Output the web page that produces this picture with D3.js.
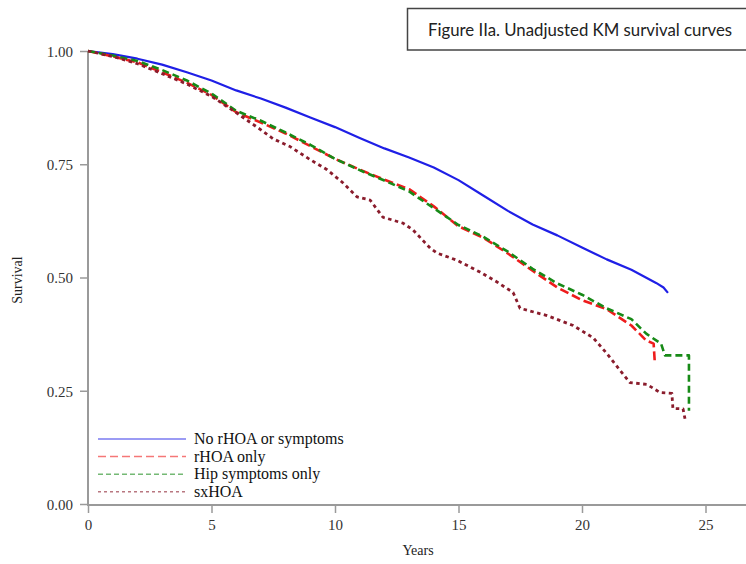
<!DOCTYPE html>
<html>
<head>
<meta charset="utf-8">
<script src="https://cdn.jsdelivr.net/npm/d3@7"></script>
<style>
  body { margin: 0; background: #fff; }
  svg { display: block; }
</style>
</head>
<body>
<svg id="chart" width="746" height="564"></svg>
<script>
const title = "Figure IIa. Unadjusted KM survival curves"
const seriesNames = ["No rHOA or symptoms", "rHOA only", "Hip symptoms only", "sxHOA"]
const xTicks = [0, 5, 10, 15, 20, 25]
const yTicks = [0, 0.25, 0.5, 0.75, 1]

// years / survival, per group
const noneT = [0, 1, 2, 3, 4, 5, 6, 7, 8, 9, 10, 11, 12, 13, 14, 15, 16, 17, 18, 19, 20, 21, 22, 23, 23.3, 23.48]
const noneS = [1, 0.993, 0.983, 0.97, 0.953, 0.935, 0.913, 0.895, 0.875, 0.853, 0.832, 0.808, 0.785, 0.765, 0.743, 0.715, 0.681, 0.647, 0.617, 0.593, 0.566, 0.54, 0.517, 0.488, 0.478, 0.466]

const rhoaT = [0, 1, 2, 3, 4, 5, 6, 7, 8, 9, 10, 11, 12, 13, 14, 15, 16, 17, 18, 19, 20, 21, 22, 22.6, 22.9, 22.95]
const rhoaS = [1, 0.988, 0.975, 0.953, 0.93, 0.903, 0.865, 0.842, 0.818, 0.79, 0.762, 0.738, 0.716, 0.695, 0.657, 0.613, 0.588, 0.553, 0.515, 0.478, 0.45, 0.43, 0.394, 0.361, 0.354, 0.31]

const hipT = [0, 1, 2, 3, 4, 5, 6, 7, 8, 9, 10, 11, 12, 13, 14, 15, 16, 17, 18, 19, 20, 21, 22, 22.6, 23.2, 23.36, 24.33, 24.33]
const hipS = [1, 0.99, 0.978, 0.958, 0.935, 0.906, 0.868, 0.846, 0.82, 0.793, 0.762, 0.737, 0.714, 0.69, 0.653, 0.616, 0.59, 0.557, 0.519, 0.487, 0.462, 0.432, 0.408, 0.376, 0.354, 0.328, 0.328, 0.206]

const sxT = [0, 1, 2, 3, 4, 5, 6, 7, 7.5, 8.18, 9, 9.68, 10.3, 10.89, 11.42, 11.94, 12.75, 13.16, 13.85, 14.13, 14.94, 15.87, 16.56, 17.21, 17.49, 18.58, 19.64, 20.45, 21.01, 21.54, 21.94, 22.63, 23.16, 23.64, 23.68, 24.09, 24.17]
const sxS = [1, 0.988, 0.972, 0.95, 0.927, 0.9, 0.864, 0.826, 0.806, 0.789, 0.76, 0.738, 0.71, 0.678, 0.671, 0.633, 0.62, 0.605, 0.565, 0.554, 0.538, 0.512, 0.49, 0.467, 0.432, 0.416, 0.394, 0.367, 0.332, 0.295, 0.268, 0.264, 0.246, 0.244, 0.211, 0.21, 0.188]

const groups = [
  {name: seriesNames[0], t: noneT, s: noneS, color: "#1f1fe6", dash: null, width: 2.2, legDash: null},
  {name: seriesNames[1], t: rhoaT, s: rhoaS, color: "#ee1c1c", dash: "9,4", width: 2.6, legDash: "8,4"},
  {name: seriesNames[2], t: hipT, s: hipS, color: "#178a17", dash: "7,4", width: 2.6, legDash: "5,3"},
  {name: seriesNames[3], t: sxT, s: sxS, color: "#8a1c2c", dash: "3.5,3.5", width: 2.8, legDash: "3,3"}
]

const svg = d3.select("#chart")
const serif = "'Liberation Serif', 'Times New Roman', serif"

const x = d3.scaleLinear().domain([0, 25]).range([88, 705.5])
const y = d3.scaleLinear().domain([0, 1]).range([504, 51])

// axes
const yAxis = d3.axisLeft(y).tickValues(yTicks).tickFormat(d3.format(".2f")).tickSize(8).tickSizeOuter(0)
const gy = svg.append("g").attr("transform", "translate(88,0)").call(yAxis)
gy.select(".domain").attr("stroke", "#9a9a9a").attr("stroke-width", 2).attr("d", "M0," + y(1) + "V" + (y(0) + 1))
gy.selectAll(".tick line").attr("stroke", "#9a9a9a").attr("stroke-width", 1.5)
gy.selectAll("text").attr("x", -15).attr("dy", "0.35em").style("font-family", serif).style("font-size", "15px").attr("fill", "#333")

const xAxis = d3.axisBottom(x).tickValues(xTicks).tickFormat(d3.format("d")).tickSize(8).tickSizeOuter(0)
const gx = svg.append("g").attr("transform", "translate(0," + (y(0) + 1) + ")").call(xAxis)
gx.select(".domain").attr("stroke", "#9a9a9a").attr("stroke-width", 2).attr("d", "M" + (x(0) - 1) + ",0H750")
gx.selectAll(".tick line").attr("stroke", "#9a9a9a").attr("stroke-width", 1.5)
gx.selectAll("text").attr("y", 14).attr("dy", "0.71em").style("font-family", serif).style("font-size", "15px").attr("fill", "#333")

svg.append("text")
  .attr("transform", "translate(22,280)rotate(-90)")
  .attr("text-anchor", "middle")
  .style("font-family", serif).style("font-size", "14px").attr("fill", "#222")
  .text("Survival")

svg.append("text")
  .attr("x", 418).attr("y", 555)
  .attr("text-anchor", "middle")
  .style("font-family", serif).style("font-size", "14px").attr("fill", "#222")
  .text("Years")

// curves
const line = d3.line().x(d => x(d[0])).y(d => y(d[1]))
svg.append("g").selectAll("path").data(groups).enter().append("path")
  .attr("d", g => line(g.t.map((t, i) => [t, g.s[i]])))
  .attr("fill", "none")
  .attr("stroke", g => g.color)
  .attr("stroke-width", g => g.width)
  .attr("stroke-dasharray", g => g.dash)
  .attr("stroke-linejoin", "round")

// legend
const leg = svg.append("g").selectAll("g").data(groups).enter().append("g")
  .attr("transform", (g, i) => "translate(0," + (439 + i * 17.6) + ")")
leg.append("line")
  .attr("x1", 98).attr("x2", 186)
  .attr("stroke", g => g.color).attr("stroke-opacity", 0.6)
  .attr("stroke-width", 1.5)
  .attr("stroke-dasharray", g => g.legDash)
leg.append("text")
  .attr("x", 194).attr("y", 5)
  .style("font-family", serif).style("font-size", "16px").attr("fill", "#111")
  .text(g => g.name)

// title box
svg.append("rect")
  .attr("x", 407.5).attr("y", 8.5).attr("width", 360).attr("height", 41.5)
  .attr("fill", "#fff").attr("stroke", "#444").attr("stroke-width", 1.5)
svg.append("text")
  .attr("x", 428).attr("y", 35.5)
  .style("font-family", "Lato, 'Open Sans', sans-serif").style("font-size", "16.8px").attr("fill", "#222")
  .text(title)
</script>
</body>
</html>
